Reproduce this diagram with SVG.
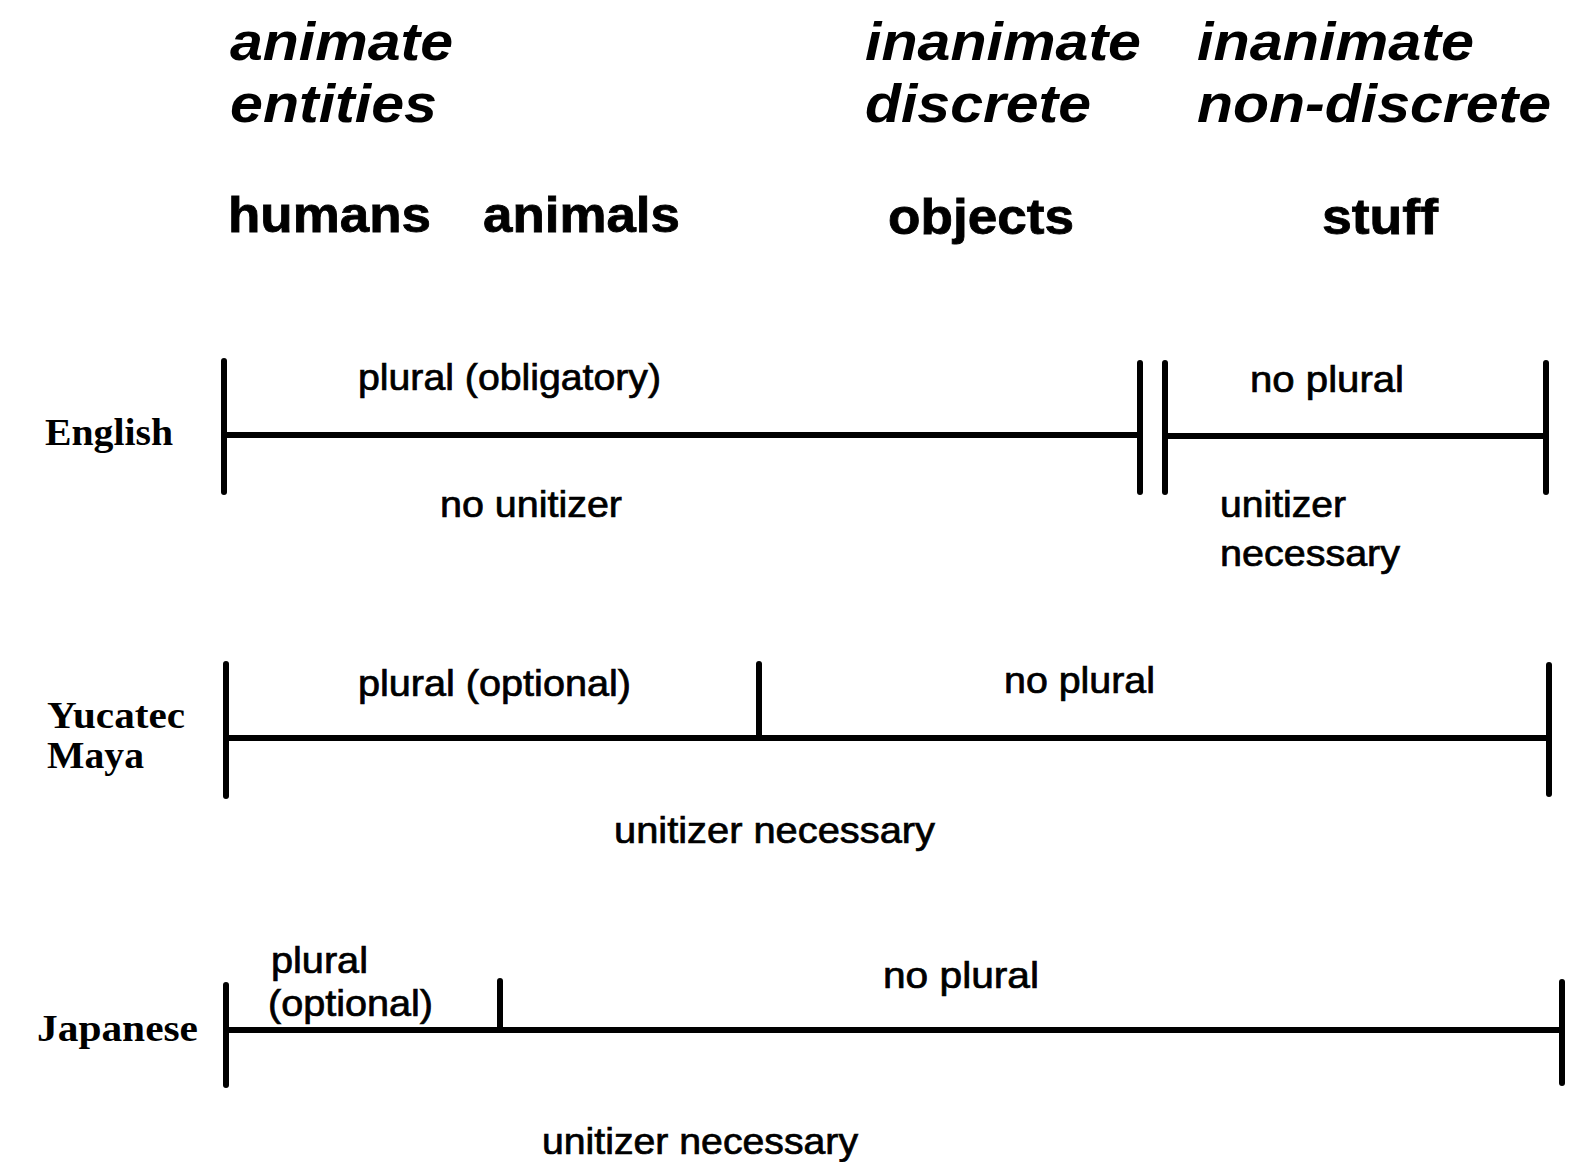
<svg xmlns="http://www.w3.org/2000/svg" width="1579" height="1162" viewBox="0 0 1579 1162">
<style>
.hdr{font-family:"Liberation Sans",Arial,sans-serif;font-weight:bold;font-style:italic;font-size:54px;fill:#000}
.cat{font-family:"Liberation Sans",Arial,sans-serif;font-weight:bold;font-size:50px;fill:#000;stroke:#000;stroke-width:0.8}
.lbl{font-family:"Liberation Sans",Arial,sans-serif;font-size:36px;fill:#000;stroke:#000;stroke-width:0.7}
.lang{font-family:"Liberation Serif","Times New Roman",serif;font-weight:bold;font-size:38px;fill:#000}
.ln{stroke:#000;stroke-width:6;stroke-linecap:round;fill:none}
</style>
<rect width="1579" height="1162" fill="#fff"/>
<g id="headers">
<text class="hdr" x="230" y="60" textLength="223" lengthAdjust="spacingAndGlyphs">animate</text>
<text class="hdr" x="230" y="122" textLength="207" lengthAdjust="spacingAndGlyphs">entities</text>
<text class="hdr" x="865" y="60" textLength="276" lengthAdjust="spacingAndGlyphs">inanimate</text>
<text class="hdr" x="865" y="122" textLength="226" lengthAdjust="spacingAndGlyphs">discrete</text>
<text class="hdr" x="1197" y="60" textLength="277" lengthAdjust="spacingAndGlyphs">inanimate</text>
<text class="hdr" x="1197" y="122" textLength="354" lengthAdjust="spacingAndGlyphs">non-discrete</text>
</g>
<g id="categories">
<text class="cat" x="228" y="232" textLength="203" lengthAdjust="spacingAndGlyphs">humans</text>
<text class="cat" x="483" y="232" textLength="197" lengthAdjust="spacingAndGlyphs">animals</text>
<text class="cat" x="888" y="234" textLength="186" lengthAdjust="spacingAndGlyphs">objects</text>
<text class="cat" x="1322" y="234" textLength="116" lengthAdjust="spacingAndGlyphs">stuff</text>
</g>
<g id="english">
<text class="lang" x="45" y="445" textLength="128" lengthAdjust="spacingAndGlyphs">English</text>
<text class="lbl" x="358" y="390" textLength="303" lengthAdjust="spacingAndGlyphs">plural (obligatory)</text>
<text class="lbl" x="440" y="517" textLength="182" lengthAdjust="spacingAndGlyphs">no unitizer</text>
<text class="lbl" x="1250" y="392" textLength="154" lengthAdjust="spacingAndGlyphs">no plural</text>
<text class="lbl" x="1220" y="517" textLength="126" lengthAdjust="spacingAndGlyphs">unitizer</text>
<text class="lbl" x="1220" y="566" textLength="180" lengthAdjust="spacingAndGlyphs">necessary</text>
</g>
<g id="yucatec">
<text class="lang" x="47" y="728" textLength="138" lengthAdjust="spacingAndGlyphs">Yucatec</text>
<text class="lang" x="47" y="768" textLength="97" lengthAdjust="spacingAndGlyphs">Maya</text>
<text class="lbl" x="358" y="696" textLength="273" lengthAdjust="spacingAndGlyphs">plural (optional)</text>
<text class="lbl" x="1004" y="693" textLength="151" lengthAdjust="spacingAndGlyphs">no plural</text>
<text class="lbl" x="614" y="843" textLength="321" lengthAdjust="spacingAndGlyphs">unitizer necessary</text>
</g>
<g id="japanese">
<text class="lang" x="37" y="1041" textLength="161" lengthAdjust="spacingAndGlyphs">Japanese</text>
<text class="lbl" x="271" y="973" textLength="97" lengthAdjust="spacingAndGlyphs">plural</text>
<text class="lbl" x="268" y="1016" textLength="165" lengthAdjust="spacingAndGlyphs">(optional)</text>
<text class="lbl" x="883" y="988" textLength="156" lengthAdjust="spacingAndGlyphs">no plural</text>
<text class="lbl" x="542" y="1154" textLength="316" lengthAdjust="spacingAndGlyphs">unitizer necessary</text>
</g>
<g id="connectors">
<line class="ln" x1="224" y1="361" x2="224" y2="492"/>
<line class="ln" x1="224" y1="435" x2="1140" y2="435"/>
<line class="ln" x1="1140" y1="363" x2="1140" y2="492"/>
<line class="ln" x1="1165" y1="363" x2="1165" y2="492"/>
<line class="ln" x1="1165" y1="436" x2="1546" y2="436"/>
<line class="ln" x1="1546" y1="363" x2="1546" y2="492"/>
<line class="ln" x1="226" y1="664" x2="226" y2="796"/>
<line class="ln" x1="226" y1="738" x2="1549" y2="738"/>
<line class="ln" x1="759" y1="664" x2="759" y2="737"/>
<line class="ln" x1="1549" y1="665" x2="1549" y2="794"/>
<line class="ln" x1="226" y1="985" x2="226" y2="1085"/>
<line class="ln" x1="226" y1="1030" x2="1562" y2="1030"/>
<line class="ln" x1="500" y1="981" x2="500" y2="1030"/>
<line class="ln" x1="1562" y1="982" x2="1562" y2="1083"/>
</g>
</svg>
